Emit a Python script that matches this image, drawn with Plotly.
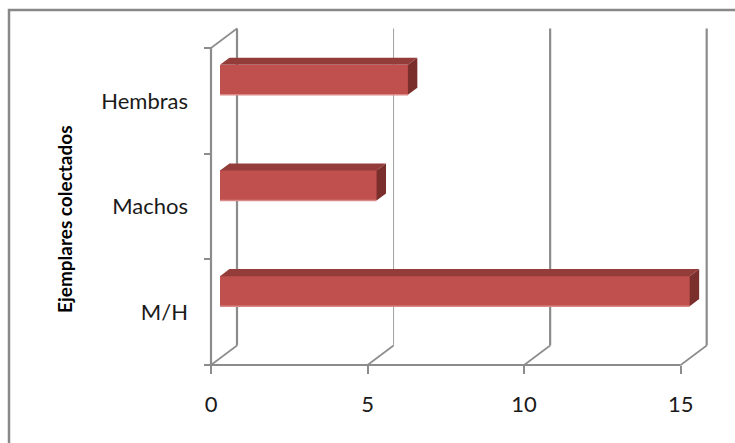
import plotly.graph_objects as go

# ---- data ----
categories = ["M/H", "Machos", "Hembras"]
values = [15, 5, 6]
x_ticks = [0, 5, 10, 15]
x_tick_labels = ["0", "5", "10", "15"]
axis_title = "Ejemplares colectados"

# ---- layout geometry (pixels) ----
W, H = 735, 443
ML, MR, MT, MB = 120, 5, 18, 60
PW, PH = W - ML - MR, H - MT - MB
X0PX, XPX = 211.0, 31.313        # pixel of value 0, pixels per unit
YBASEPX, YPX = 365.0, 105.667    # pixel of front floor, pixels per category
xr = [(ML - X0PX) / XPX, (ML + PW - X0PX) / XPX]
yr = [-0.5 - (MT + PH - YBASEPX) / YPX, -0.5 + (YBASEPX - MT) / YPX]

DX, DY = 26 / XPX, 19.5 / YPX    # depth offset of back wall
F0, F1 = 0.346, 0.71             # bar front / back depth fraction
C_OFF, BH = 0.135, 0.284         # bar centre offset and thickness

GRID = "#8c8c8c"
FRONT = "#C0504D"
TOP = "#943C3A"
SIDE = "#7A2F2D"
EDGE = "#D98A88"

ymin, ymax = -0.5, len(categories) - 0.5
xmax = x_ticks[-1]

fig = go.Figure()

shapes = []
def line(x0, y0, x1, y1, w=2, c=GRID):
    shapes.append(dict(type="line", xref="x", yref="y", x0=x0, y0=y0, x1=x1, y1=y1,
                       line=dict(color=c, width=w), layer="below"))

# back wall gridlines
for t in x_ticks:
    w = 1 if t == 5 else 2.2
    c = "#a0a0a0" if t == 5 else GRID
    line(t + DX, ymin + DY, t + DX, ymax + DY, w, c)
    line(t, ymin, t + DX, ymin + DY, 1.6)
# left wall top edge
line(0, ymax, DX, ymax + DY, 1.6)
# front axes
line(0, ymin, 0, ymax, 2.2)
line(0, ymin, xmax, ymin, 2.2)

# bars
for i, v in enumerate(values):
    yc = i + C_OFF
    yb0, yt0 = yc - BH / 2 + F0 * DY, yc + BH / 2 + F0 * DY
    yb1, yt1 = yc - BH / 2 + F1 * DY, yc + BH / 2 + F1 * DY
    xa0, xa1 = F0 * DX, F1 * DX
    # top face
    fig.add_trace(go.Scatter(x=[xa0, v + xa0, v + xa1, xa1, xa0],
                             y=[yt0, yt0, yt1, yt1, yt0], fill="toself",
                             fillcolor=TOP, line=dict(width=0), mode="lines",
                             hoverinfo="skip", showlegend=False))
    # side face
    fig.add_trace(go.Scatter(x=[v + xa0, v + xa0, v + xa1, v + xa1, v + xa0],
                             y=[yb0, yt0, yt1, yb1, yb0], fill="toself",
                             fillcolor=SIDE, line=dict(width=0), mode="lines",
                             hoverinfo="skip", showlegend=False))
    # front face
    fig.add_trace(go.Bar(x=[v], y=[yc + F0 * DY], base=[xa0], width=[BH],
                         orientation="h", marker=dict(color=FRONT, line=dict(width=0)),
                         showlegend=False))
    # bottom highlight
    fig.add_trace(go.Scatter(x=[xa0, v + xa0], y=[yb0, yb0], mode="lines",
                             line=dict(color=EDGE, width=1.5), hoverinfo="skip",
                             showlegend=False))

fig.update_layout(
    width=W, height=H,
    margin=dict(l=ML, r=MR, t=MT, b=MB, autoexpand=False),
    paper_bgcolor="white", plot_bgcolor="white",
    font=dict(family="Lato", color="#1a1a1a"),
    shapes=shapes + [dict(type="rect", xref="paper", yref="paper",
                          x0=(9 - ML) / PW, x1=(760 - ML) / PW,
                          y0=(MT + PH - 470) / PH, y1=(MT + PH - 10) / PH,
                          line=dict(color="#888888", width=2.5), layer="above")],
    xaxis=dict(range=xr, anchor="free", position=(MT + PH - YBASEPX) / PH,
               showgrid=False, zeroline=False, showline=False,
               tickmode="array", tickvals=x_ticks, ticktext=x_tick_labels,
               ticks="outside", ticklen=8, tickwidth=2, tickcolor=GRID,
               ticklabelstandoff=12, tickfont=dict(size=22, color="#1a1a1a")),
    yaxis=dict(range=yr, anchor="free", position=(X0PX - ML) / PW,
               showgrid=False, zeroline=False, showline=False,
               tickmode="array", tickvals=list(range(len(categories))),
               ticktext=categories, ticks="", ticklabelstandoff=23,
               tickfont=dict(size=22, color="#1a1a1a"),
               minor=dict(tickmode="array", tickvals=[k - 0.5 for k in range(len(categories) + 1)],
                          ticks="outside", ticklen=7, tickwidth=2, tickcolor=GRID,
                          showgrid=False)),
    bargap=0,
    annotations=[dict(text="<b>" + axis_title + "</b>", xref="paper", yref="paper",
                      x=(64 - ML) / PW, y=(MT + PH - 219) / PH, textangle=-90,
                      showarrow=False, xanchor="center", yanchor="middle",
                      font=dict(size=19, color="#000000", family="Lato"))],
)

fig.write_html("out.html")
